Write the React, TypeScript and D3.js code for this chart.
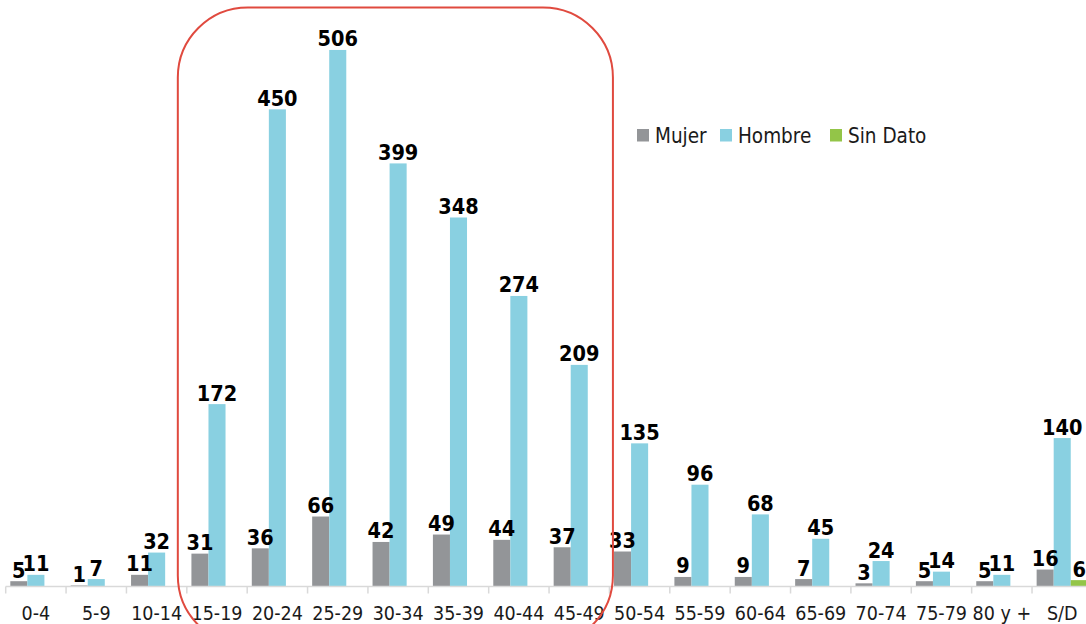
import { useEffect, useRef } from "react";
import * as d3 from "d3";

const CATEGORIES = [
  "0-4", "5-9", "10-14", "15-19", "20-24", "25-29", "30-34", "35-39", "40-44",
  "45-49", "50-54", "55-59", "60-64", "65-69", "70-74", "75-79", "80 y +", "S/D",
];
const MUJER = [5, 1, 11, 31, 36, 66, 42, 49, 44, 37, 33, 9, 9, 7, 3, 5, 5, 16];
const HOMBRE = [11, 7, 32, 172, 450, 506, 399, 348, 274, 209, 135, 96, 68, 45, 24, 14, 11, 140];
const SIN_DATO = [0, 0, 0, 0, 0, 0, 0, 0, 0, 0, 0, 0, 0, 0, 0, 0, 0, 6];

const SERIES = [
  { key: "Mujer", values: MUJER, color: "#939598" },
  { key: "Hombre", values: HOMBRE, color: "#89d0e1" },
  { key: "Sin Dato", values: SIN_DATO, color: "#93c548" },
];

// highlighted age range (15-19 .. 45-49)
const HIGHLIGHT = ["15-19", "45-49"];

const FONT = "'DejaVu Sans Condensed', 'DejaVu Sans', sans-serif";

export default function App() {
  const ref = useRef<SVGSVGElement | null>(null);

  useEffect(() => {
    const width = 1086;
    const height = 624;
    const margin = { left: 5.7, right: -6.4, top: 3.3, bottom: 37.5 };

    const svg = d3.select(ref.current);
    svg.selectAll("*").remove();

    const x0 = d3
      .scaleBand<string>()
      .domain(CATEGORIES)
      .range([margin.left, width - margin.right])
      .padding(0);
    const x1 = d3
      .scaleBand<string>()
      .domain(SERIES.map((s) => s.key))
      .range([0, x0.bandwidth()])
      .paddingInner(0)
      .paddingOuter(0.27);
    const y = d3
      .scaleLinear()
      .domain([0, 550])
      .range([height - margin.bottom, margin.top]);

    // bars
    SERIES.forEach((s) => {
      svg
        .append("g")
        .selectAll("rect")
        .data(s.values.map((v, i) => ({ cat: CATEGORIES[i], v })))
        .join("rect")
        .attr("x", (d) => (x0(d.cat) ?? 0) + (x1(s.key) ?? 0))
        .attr("y", (d) => y(d.v))
        .attr("width", x1.bandwidth())
        .attr("height", (d) => y(0) - y(d.v))
        .attr("fill", s.color);
    });

    // axis
    const axis = svg.append("g").attr("transform", `translate(0,${y(0)})`);
    axis
      .append("line")
      .attr("x1", x0.range()[0])
      .attr("x2", x0.range()[1])
      .attr("stroke", "#d9d9d9")
      .attr("stroke-width", 1.5);
    axis
      .selectAll("line.tick")
      .data(CATEGORIES)
      .join("line")
      .attr("class", "tick")
      .attr("x1", (d) => x0(d) ?? 0)
      .attr("x2", (d) => x0(d) ?? 0)
      .attr("y1", 0)
      .attr("y2", 7)
      .attr("stroke", "#d9d9d9")
      .attr("stroke-width", 1.5);
    axis
      .selectAll("text")
      .data(CATEGORIES)
      .join("text")
      .attr("x", (d) => (x0(d) ?? 0) + x0.bandwidth() / 2)
      .attr("y", 33)
      .attr("text-anchor", "middle")
      .attr("font-family", FONT)
      .attr("font-size", 19.5)
      .attr("fill", "#1a1a1a")
      .text((d) => d);

    // value labels (zeros are not labelled)
    SERIES.forEach((s) => {
      svg
        .append("g")
        .selectAll("text")
        .data(s.values.map((v, i) => ({ cat: CATEGORIES[i], v })).filter((d) => d.v > 0))
        .join("text")
        .attr("x", (d) => (x0(d.cat) ?? 0) + (x1(s.key) ?? 0) + x1.bandwidth() / 2)
        .attr("y", (d) => y(d.v) - 3.5)
        .attr("text-anchor", "middle")
        .attr("font-family", FONT)
        .attr("font-weight", "bold")
        .attr("font-size", 21.5)
        .attr("fill", "#000")
        .text((d) => d.v);
    });

    // legend
    const legendX = [637, 720, 830];
    const legend = svg.append("g").attr("transform", "translate(0,129)");
    SERIES.forEach((s, i) => {
      legend
        .append("rect")
        .attr("x", legendX[i])
        .attr("y", 0)
        .attr("width", 12)
        .attr("height", 12.5)
        .attr("fill", s.color);
      legend
        .append("text")
        .attr("x", legendX[i] + 18)
        .attr("y", 14)
        .attr("font-family", FONT)
        .attr("font-size", 20.5)
        .attr("fill", "#1a1a1a")
        .text(s.key);
    });

    // red rounded highlight box
    const hx0 = (x0(HIGHLIGHT[0]) ?? 0) - 9;
    const hx1 = (x0(HIGHLIGHT[1]) ?? 0) + x0.bandwidth() + 3.5;
    svg
      .append("rect")
      .attr("x", hx0)
      .attr("y", 7.5)
      .attr("width", hx1 - hx0)
      .attr("height", 638)
      .attr("rx", 70)
      .attr("ry", 70)
      .attr("fill", "none")
      .attr("stroke", "#e04a3f")
      .attr("stroke-width", 2);
  }, []);

  return (
    <>
      <style>{`body{margin:0;overflow:hidden}`}</style>
      <svg ref={ref} width={1086} height={624} style={{ display: "block", background: "#fff" }} />
    </>
  );
}
